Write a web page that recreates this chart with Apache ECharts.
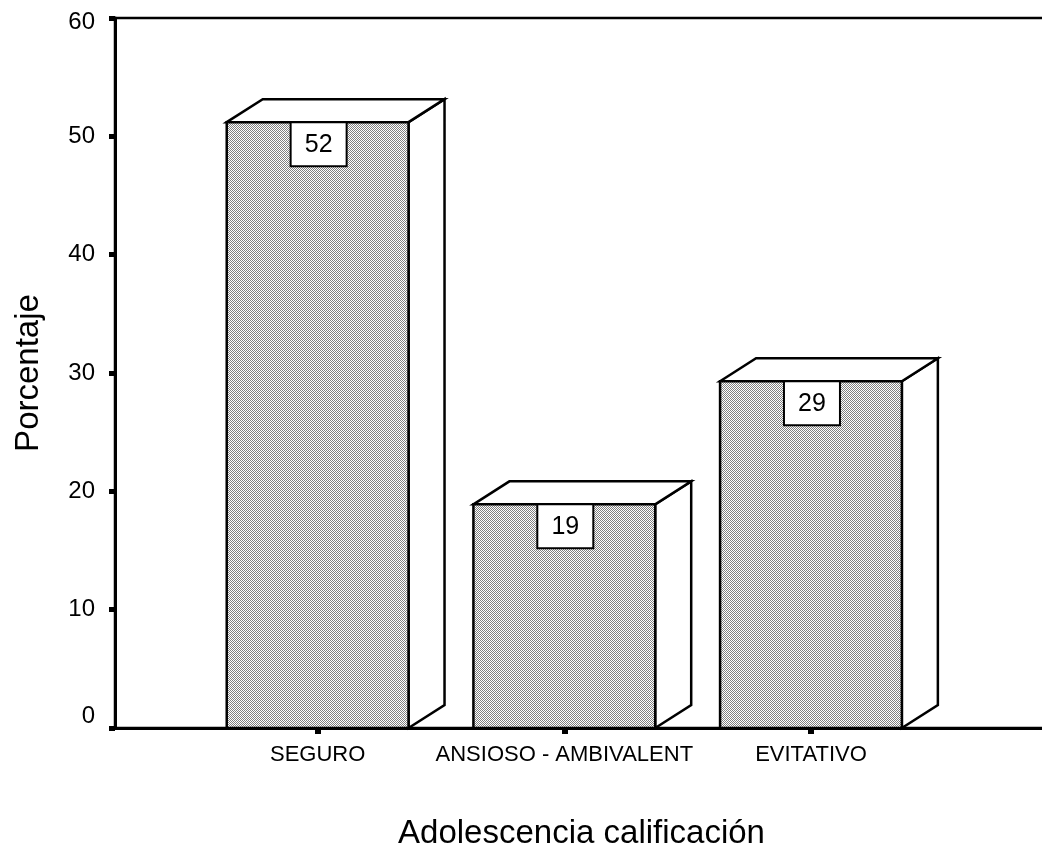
<!DOCTYPE html>
<html>
<head>
<meta charset="utf-8">
<script src="https://cdn.jsdelivr.net/npm/echarts@6/dist/echarts.min.js"></script>
<style>html,body{margin:0;padding:0;background:#fff;}#c{width:1042px;height:850px;}</style>
</head>
<body>
<div id="c"></div>
<script>
const categories = ['SEGURO', 'ANSIOSO - AMBIVALENT', 'EVITATIVO'];
const percentages = [51.2, 18.9, 29.3];
const valueLabels = ['52', '19', '29'];
const yTicks = [0, 10, 20, 30, 40, 50, 60];

const FONT = 'Liberation Sans, Arial, sans-serif';

// checkerboard fill pattern
const pc = document.createElement('canvas');
pc.width = 2; pc.height = 2;
const pctx = pc.getContext('2d');
pctx.fillStyle = '#ffffff'; pctx.fillRect(0, 0, 2, 2);
pctx.fillStyle = '#808080'; pctx.fillRect(0, 0, 1, 1); pctx.fillRect(1, 1, 1, 1);
const pattern = { image: pc, repeat: 'repeat' };

function renderItem(params, api) {
  const i = api.value(0), v = api.value(1);
  const top = api.coord([i, v]);
  const base = api.coord([i, 0]);
  const band = api.size([1, 0])[0];
  const w = band * 0.737;
  const x0 = top[0] - w / 2, x1 = top[0] + w / 2;
  const yt = top[1], yb = base[1];
  const dx = 36, dy = -23;
  const edge = { stroke: '#000', lineWidth: 2.5, lineJoin: 'miter' };
  return {
    type: 'group',
    children: [
      { type: 'polygon', shape: { points: [[x1, yt], [x1 + dx, yt + dy], [x1 + dx, yb + dy], [x1, yb]] },
        style: Object.assign({ fill: '#fff' }, edge) },
      { type: 'polygon', shape: { points: [[x0, yt], [x0 + dx, yt + dy], [x1 + dx, yt + dy], [x1, yt]] },
        style: Object.assign({ fill: '#fff' }, edge) },
      { type: 'rect', shape: { x: x0, y: yt, width: w, height: yb - yt },
        style: Object.assign({ fill: pattern }, edge) },
      { type: 'rect', shape: { x: top[0] - 27, y: yt, width: 56, height: 44 },
        style: { fill: '#fff', stroke: '#000', lineWidth: 2 } },
      { type: 'text', style: { text: valueLabels[i], x: top[0] + 1, y: yt + 23, align: 'center', verticalAlign: 'middle',
        font: '25px ' + FONT, fill: '#000' } }
    ]
  };
}

const chart = echarts.init(document.getElementById('c'), null, { renderer: 'canvas' });
chart.setOption({
  backgroundColor: '#fff',
  animation: false,
  grid: [
    { left: 115, right: -6, top: 18, bottom: 122, outerBoundsMode: 'none', containLabel: false,
      show: true, borderColor: '#000', borderWidth: 2.5, backgroundColor: 'transparent' },
    { left: 194.3, width: 740, top: 18, bottom: 122, outerBoundsMode: 'none', containLabel: false }
  ],
  xAxis: [
    { gridIndex: 0, type: 'value', min: 0, max: 1, show: true,
      axisLine: { show: true, lineStyle: { color: '#000', width: 3 } },
      axisTick: { show: false }, axisLabel: { show: false }, splitLine: { show: false },
      name: 'Adolescencia calificación', nameLocation: 'middle', nameGap: 89,
      nameTextStyle: { fontFamily: FONT, fontSize: 33, color: '#000' } },
    { gridIndex: 1, type: 'category', data: categories,
      axisLine: { show: false },
      axisTick: { show: true, alignWithLabel: true, length: 6, lineStyle: { color: '#000', width: 6 } },
      axisLabel: { fontFamily: FONT, fontSize: 22, color: '#000', margin: 16, interval: 0 },
      splitLine: { show: false } }
  ],
  yAxis: [
    { gridIndex: 0, type: 'value', min: 0, max: 60, interval: 10,
      axisLine: { show: true, lineStyle: { color: '#000', width: 3 } },
      axisTick: { show: true, length: 6, lineStyle: { color: '#000', width: 5 } },
      axisLabel: { fontFamily: FONT, fontSize: 24, color: '#000', margin: 20,
        formatter: function (val) {
          if (val === yTicks[0]) return '{z|' + val + '}';
          if (val === yTicks[yTicks.length - 1]) return '{t|' + val + '}';
          return String(val);
        },
        rich: {
          z: { fontFamily: FONT, fontSize: 24, color: '#000', padding: [0, 0, 24, 0] },
          t: { fontFamily: FONT, fontSize: 24, color: '#000', padding: [8, 0, 0, 0] }
        } },
      splitLine: { show: false },
      name: 'Porcentaje', nameLocation: 'middle', nameGap: 70,
      nameTextStyle: { fontFamily: FONT, fontSize: 33, color: '#000' } },
    { gridIndex: 1, type: 'value', min: 0, max: 60, interval: 10, show: false }
  ],
  series: [
    { type: 'custom', xAxisIndex: 1, yAxisIndex: 1, renderItem: renderItem,
      data: percentages.map(function (p, i) { return [i, p]; }), z: 2 }
  ]
});
</script>
</body>
</html>
